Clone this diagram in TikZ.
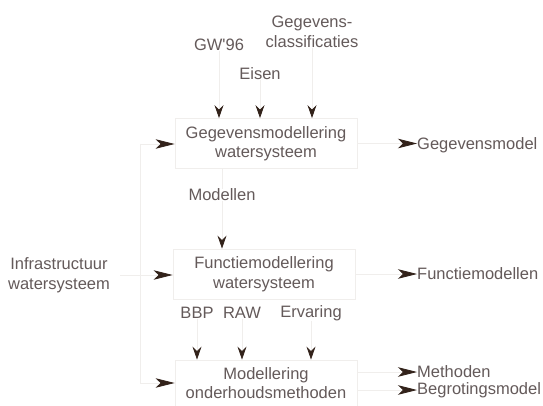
\documentclass[tikz,border=0pt]{standalone}
\usepackage{fontspec}
\setmainfont{Liberation Sans}
\usetikzlibrary{arrows.meta}
\definecolor{ink}{RGB}{100,90,90}
\definecolor{tipc}{RGB}{50,34,26}
\definecolor{faint}{RGB}{240,238,236}
\begin{document}
\begin{tikzpicture}[x=1pt,y=-1pt,
  txt/.style={text=ink,font=\fontsize{16.5}{19.5}\selectfont,inner sep=0pt,align=center},
  stage/.style={txt,draw=faint,line width=0.8pt,minimum width=182pt},
  wire/.style={draw=faint,line width=0.8pt},
  dnarrow/.style={wire,-{Stealth[length=13pt,width=9pt,inset=4.5pt,color=tipc]}},
  rtarrow/.style={wire,-{Stealth[length=19pt,width=9.5pt,inset=5pt,color=tipc]}}]
\path[use as bounding box,fill=white] (0,0) rectangle (543,406);

% inputs of the first stage
\node[txt] (gw) at (219,45) {GW\textquotesingle96};
\node[txt] (gc) at (312,32) {Gegevens-\\classificaties};
\node[txt] (eisen) at (260,74) {Eisen};

% stage 1
\node[stage,minimum height=50pt] (s1) at (266,143.5) {Gegevensmodellering\\watersysteem};
\draw[dnarrow] (gw.south) -- (gw.south |- s1.north);
\draw[dnarrow] (eisen.south) -- (eisen.south |- s1.north);
\draw[dnarrow] (gc.south) -- (gc.south |- s1.north);
\node[txt,anchor=west] (o1) at (417,145) {Gegevensmodel};
\draw[rtarrow] (s1.east) -- (s1.east -| o1.west);

% feedback line on the left
\coordinate (fb1) at (140,144);
\coordinate (fb2) at (140,383);
\draw[wire] (fb1) -- (fb2);
\draw[rtarrow] (fb1) -- (fb1 -| s1.west);

% stage 2
\node[txt] (mod) at (222,195) {Modellen};
\node[stage,minimum height=50pt] (s2) at (264,274) {Functiemodellering\\watersysteem};
\draw[wire] (s1.south -| mod.north) -- (mod.north);
\draw[dnarrow] (mod.south) -- (mod.south |- s2.north);
\node[txt] (inf) at (59,275) {Infrastructuur\\watersysteem};
\draw[rtarrow,shorten <=10pt] (inf.east) -- (inf.east -| s2.west);
\node[txt,anchor=west] (o2) at (417,274) {Functiemodellen};
\draw[rtarrow] (s2.east) -- (s2.east -| o2.west);

% inputs of the third stage
\node[txt] (bbp) at (197,313) {BBP};
\node[txt] (raw) at (242,313) {RAW};
\node[txt] (erv) at (311,313) {Ervaring};

% stage 3
\node[stage,minimum height=46pt] (s3) at (266,383) {Modellering\\onderhoudsmethoden};
\draw[dnarrow] (bbp.south) -- (bbp.south |- s3.north);
\draw[dnarrow] (raw.south) -- (raw.south |- s3.north);
\draw[dnarrow] (erv.south) -- (erv.south |- s3.north);
\draw[rtarrow] (fb2) -- (fb2 -| s3.west);
\node[txt,anchor=west] (o3) at (417,372) {Methoden};
\node[txt,anchor=west] (o4) at (417,390) {Begrotingsmodel};
\draw[rtarrow] (s3.east |- o3.west) -- (o3.west);
\draw[rtarrow] (s3.east |- o4.west) -- (o4.west);
\end{tikzpicture}
\end{document}
